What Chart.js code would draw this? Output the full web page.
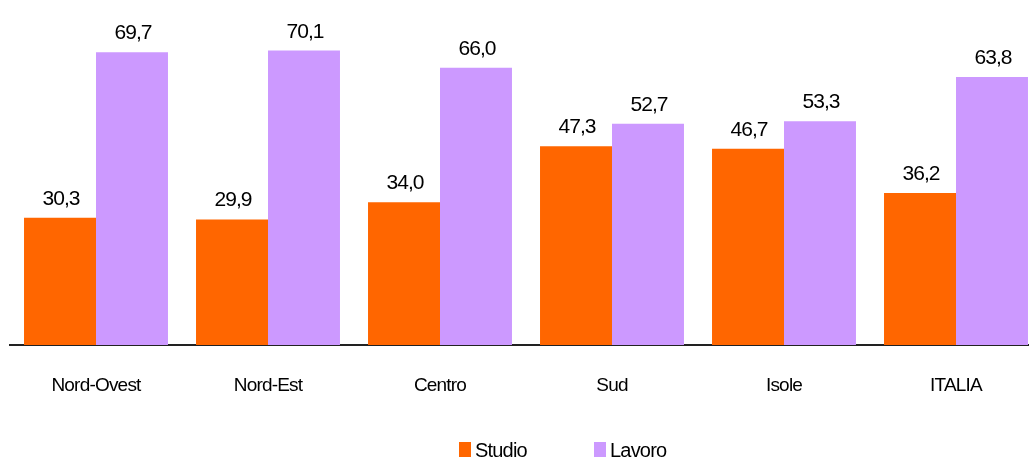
<!DOCTYPE html>
<html>
<head>
<meta charset="utf-8">
<script src="https://cdn.jsdelivr.net/npm/chart.js@4/dist/chart.umd.min.js"></script>
<style>
  html, body { margin: 0; padding: 0; background: #fff; overflow: hidden; }
  #wrap { position: relative; width: 1043px; height: 462px; }
</style>
</head>
<body>
<div id="wrap"><canvas id="myChart"></canvas></div>
<script>
var categories = ['Nord-Ovest', 'Nord-Est', 'Centro', 'Sud', 'Isole', 'ITALIA'];
var studio = [30.3, 29.9, 34.0, 47.3, 46.7, 36.2];
var lavoro = [69.7, 70.1, 66.0, 52.7, 53.3, 63.8];

var FONT = '"Liberation Sans", Arial, sans-serif';

function fmt(v){
	return v.toFixed(1).replace('.', ',');
}

// valori sopra le barre + legenda disegnata a mano
var labelsPlugin = {
	id: 'labelsPlugin',
	beforeDraw: function(chart){
		chart.ctx.letterSpacing = '-0.8px';
	},
	afterDatasetsDraw: function(chart){
		var ctx = chart.ctx;
		ctx.save();
		ctx.letterSpacing = '-1px';
		ctx.font = '21px ' + FONT;
		ctx.fillStyle = '#000';
		ctx.textAlign = 'center';
		ctx.textBaseline = 'alphabetic';
		chart.data.datasets.forEach(function(ds, i){
			var meta = chart.getDatasetMeta(i);
			meta.data.forEach(function(bar, j){
				ctx.fillText(fmt(ds.data[j]), bar.x + 1, bar.y - 13);
			});
		});
		ctx.restore();
	},
	afterDraw: function(chart){
		var ctx = chart.ctx;
		ctx.save();
		ctx.letterSpacing = '-0.8px';
		ctx.font = '20px ' + FONT;
		ctx.textBaseline = 'alphabetic';
		ctx.textAlign = 'left';
		var xs = [459, 594];
		chart.data.datasets.forEach(function(ds, i){
			ctx.fillStyle = ds.backgroundColor;
			ctx.fillRect(xs[i], 442, 12, 15);
			ctx.fillStyle = '#000';
			ctx.fillText(ds.label, xs[i] + 16, 457);
		});
		ctx.restore();
	}
};

var ctx = document.getElementById('myChart');

var myChart = new Chart(ctx, {
	type: 'bar',
	data: {
		labels: categories,
		datasets: [{
			label: 'Studio',
			data: studio,
			backgroundColor: '#FF6600',
			borderWidth: 0
		}, {
			label: 'Lavoro',
			data: lavoro,
			backgroundColor: '#CC99FF',
			borderWidth: 0
		}]
	},
	options: {
		responsive: true,
		maintainAspectRatio: false,
		animation: false,
		layout: { padding: { left: 10, right: 1, top: 9, bottom: 0 } },
		plugins: {
			legend: { display: false },
			tooltip: { enabled: false }
		},
		datasets: {
			bar: { categoryPercentage: 0.837, barPercentage: 1.0 }
		},
		scales: {
			x: {
				grid: { display: false, drawTicks: false },
				border: { display: true, color: '#222', width: 2 },
				ticks: {
					color: '#000',
					font: { family: FONT, size: 19 },
					padding: 29,
					maxRotation: 0
				},
				afterFit: function(scale){ scale.height = 117; }
			},
			y: {
				display: false,
				min: 0,
				max: 80
			}
		}
	},
	plugins: [labelsPlugin]
});
</script>
</body>
</html>
